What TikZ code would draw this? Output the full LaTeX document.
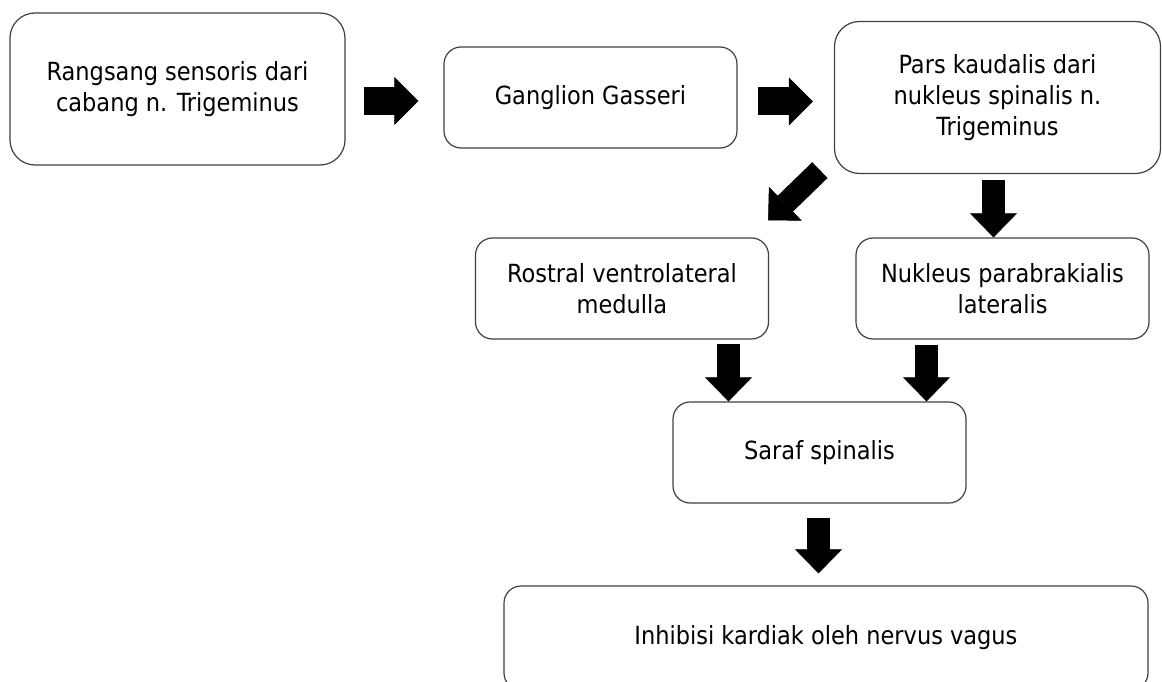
\documentclass[tikz,border=0pt]{standalone}
\usepackage{fontspec}
\setmainfont{DejaVu Sans Condensed}
\usepackage{tikz}
\usetikzlibrary{shapes, arrows.meta}
\tikzstyle{block} = [rectangle, draw=black!75, line width=1.2pt, text centered, align=center, rounded corners=17pt, minimum width=293pt, minimum height=101pt, font=\fontsize{25}{31}\selectfont]
\tikzstyle{bigblock} = [block, rounded corners=25pt, minimum height=152pt]
\tikzstyle{line} = [draw, line width=23.5pt, -{Triangle[length=24pt, width=47pt, line width=0.5pt]}]
\tikzstyle{wideline} = [draw, line width=28pt, -{Triangle[length=24pt, width=48pt, line width=0.5pt]}]

\begin{document}
\begin{tikzpicture}[node distance=400pt]
        \useasboundingbox (0,0) rectangle (1162pt,-682pt);
        \node [bigblock, minimum width=335pt] (stimulus) at (177.5pt,-89pt) {Rangsang sensoris dari\\cabang n. Trigeminus};
        \node [block, right of=stimulus, node distance=413pt, yshift=-8.5pt] (ganglion) {Ganglion Gasseri};
        \node [bigblock, right of=ganglion, node distance=407pt, minimum width=326pt] (kaudalis) {Pars kaudalis dari\\nukleus spinalis n.\\Trigeminus};
        \node [block, below of=kaudalis, node distance=191pt, xshift=5pt] (parabrakial) {Nukleus parabrakialis\\lateralis};
        \node [block, left of=parabrakial, node distance=380.5pt] (rostral) {Rostral ventrolateral\\medulla};
        \node [block, below of=rostral, node distance=164pt, xshift=197.5pt] (spinal) {Saraf spinalis};
        \node [block, below of=spinal, node distance=185.5pt, xshift=6.5pt, minimum width=644pt, minimum height=104pt] (vagus) {Inhibisi kardiak oleh nervus vagus};

        \path [wideline] ([xshift=18pt, yshift=-12pt]stimulus.east) -- ([xshift=-25pt, yshift=-3.5pt]ganglion.west);
        \path [wideline] ([xshift=20pt, yshift=-4pt]ganglion.east) -- ([xshift=-21pt, yshift=-4pt]kaudalis.west);
        \path [line, line width=22pt] ([xshift=-14pt, yshift=4pt]kaudalis.south west) -- ([xshift=-1pt, yshift=17pt]rostral.north east);
        \path [line] ([xshift=-4pt, yshift=-6pt]kaudalis.south) -- ([xshift=-9pt]parabrakial.north);
        \path [line] ([xshift=106.5pt, yshift=-4pt]rostral.south) -- ([xshift=-91pt]spinal.north);
        \path [line] ([xshift=-76pt, yshift=-5pt]parabrakial.south) -- ([xshift=107pt]spinal.north);
        \path [line] ([xshift=-1pt, yshift=-14pt]spinal.south) -- ([xshift=-7.5pt, yshift=12pt]vagus.north); % stops short of the last box
    \end{tikzpicture}
\end{document}
